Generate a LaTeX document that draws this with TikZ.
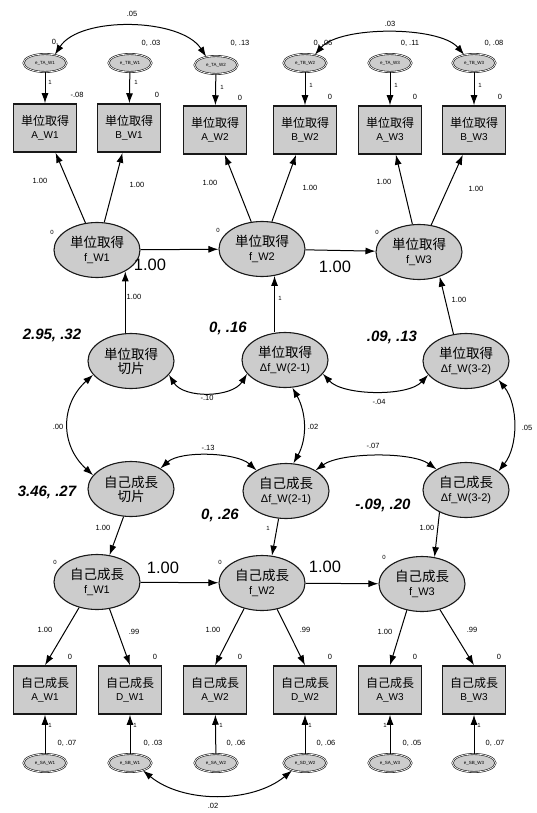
\documentclass[tikz,border=0pt]{standalone}
\usepackage{fontspec}
\setmainfont{Liberation Sans}
\newfontfamily\cjk{Noto Sans CJK JP}
\usetikzlibrary{shapes.geometric,arrows.meta,calc}
\newcommand{\jtxt}[2]{{\cjk\fontsize{#1}{#1}\selectfont #2}}
\begin{document}
\begin{tikzpicture}[x=1pt,y=-1pt,
  obs/.style={draw=black!90, line width=1.5pt, fill=black!20, minimum width=63pt, minimum height=48pt, inner sep=1pt, align=center, font=\fontsize{10}{13}\selectfont},
  lat/.style={ellipse, draw=black!90, line width=1.1pt, fill=black!20, minimum width=86pt, minimum height=55pt, inner sep=0pt, align=center, font=\fontsize{11}{14}\selectfont},
  err/.style={ellipse, draw=black!90, double, double distance=0.7pt, line width=0.6pt, fill=black!20, minimum width=43pt, minimum height=18pt, inner sep=0pt, font=\fontsize{4.5}{5}\selectfont},
  arr/.style={-{Latex[length=10pt,width=7pt]}, line width=1pt},
  cov/.style={{Latex[length=10pt,width=7pt]}-{Latex[length=10pt,width=7pt]}, line width=1pt},
  smlab/.style={font=\fontsize{7.5}{8}\selectfont, inner sep=0pt},
  tnlab/.style={font=\fontsize{6}{6}\selectfont, inner sep=0pt},
  biglab/.style={font=\fontsize{16.5}{18}\selectfont, inner sep=0pt},
  bilab/.style={font=\fontsize{15}{17}\bfseries\itshape\selectfont, inner sep=0pt}
]
\useasboundingbox (0,0) rectangle (537,813);

% ---- top error terms
\node[err] (eT1) at (45,63) {e\_TA\_W1};
\node[err] (eT2) at (130,63) {e\_TB\_W1};
\node[err] (eT3) at (216,65) {e\_TA\_W2};
\node[err] (eT4) at (305,63) {e\_TB\_W2};
\node[err] (eT5) at (390,63) {e\_TA\_W3};
\node[err] (eT6) at (474,63) {e\_TB\_W3};

% ---- top observed
\node[obs] (bT1) at (45,128) {\jtxt{12}{単位取得}\\A\_W1};
\node[obs] (bT2) at (129,128) {\jtxt{12}{単位取得}\\B\_W1};
\node[obs] (bT3) at (215,130) {\jtxt{12}{単位取得}\\A\_W2};
\node[obs] (bT4) at (305,130) {\jtxt{12}{単位取得}\\B\_W2};
\node[obs] (bT5) at (390,130) {\jtxt{12}{単位取得}\\A\_W3};
\node[obs] (bT6) at (474,130) {\jtxt{12}{単位取得}\\B\_W3};

% ---- top latent
\node[lat] (fT1) at (97,250) {\jtxt{13.5}{単位取得}\\f\_W1};
\node[lat] (fT2) at (262,249) {\jtxt{13.5}{単位取得}\\f\_W2};
\node[lat] (fT3) at (419,252) {\jtxt{13.5}{単位取得}\\f\_W3};

% ---- growth factors
\node[lat] (iT) at (131,361) {\jtxt{13.5}{単位取得}\\\jtxt{13.5}{切片}};
\node[lat] (dT21) at (285,360) {\jtxt{13.5}{単位取得}\\Δf\_W(2-1)};
\node[lat] (dT32) at (466,361) {\jtxt{13.5}{単位取得}\\Δf\_W(3-2)};
\node[lat] (iS) at (131,489) {\jtxt{13.5}{自己成長}\\\jtxt{13.5}{切片}};
\node[lat] (dS21) at (286,491) {\jtxt{13.5}{自己成長}\\Δf\_W(2-1)};
\node[lat] (dS32) at (466,490) {\jtxt{13.5}{自己成長}\\Δf\_W(3-2)};

% ---- bottom latent
\node[lat] (fS1) at (97,582) {\jtxt{13.5}{自己成長}\\f\_W1};
\node[lat] (fS2) at (262,583) {\jtxt{13.5}{自己成長}\\f\_W2};
\node[lat] (fS3) at (422,584) {\jtxt{13.5}{自己成長}\\f\_W3};

% ---- bottom observed
\node[obs] (bS1) at (45,690) {\jtxt{12}{自己成長}\\A\_W1};
\node[obs] (bS2) at (130,690) {\jtxt{12}{自己成長}\\D\_W1};
\node[obs] (bS3) at (215,690) {\jtxt{12}{自己成長}\\A\_W2};
\node[obs] (bS4) at (305,690) {\jtxt{12}{自己成長}\\D\_W2};
\node[obs] (bS5) at (390,690) {\jtxt{12}{自己成長}\\A\_W3};
\node[obs] (bS6) at (474,690) {\jtxt{12}{自己成長}\\B\_W3};

% ---- bottom error terms
\node[err] (eS1) at (45,763) {e\_SA\_W1};
\node[err] (eS2) at (130,763) {e\_SB\_W1};
\node[err] (eS3) at (216,763) {e\_SA\_W2};
\node[err] (eS4) at (305,763) {e\_SD\_W2};
\node[err] (eS5) at (390,763) {e\_SA\_W3};
\node[err] (eS6) at (474,763) {e\_SB\_W3};

% ---- error -> observed
\foreach \i in {1,...,6}{
  \draw[arr] (eT\i) -- (bT\i);
  \draw[arr] (eS\i) -- (bS\i);
}

% ---- loadings top
\draw[arr] (fT1) -- (bT1);
\draw[arr] (fT1) -- (bT2);
\draw[arr] (fT2) -- (bT3);
\draw[arr] (fT2) -- (bT4);
\draw[arr] (fT3) -- (bT5);
\draw[arr] (fT3) -- (bT6);

% ---- loadings bottom
\draw[arr] (fS1.-125) -- (bS1.north);
\draw[arr] (fS1.-65) -- (bS2.north);
\draw[arr] (fS2.-125) -- (bS3.north);
\draw[arr] (fS2.-60) -- (bS4.north);
\draw[arr] (fS3.-120) -- (bS5.north);
\draw[arr] (fS3.-55) -- (bS6.north);

% ---- autoregressive
\draw[arr] (fT1) -- (fT2);
\draw[arr] (fT2) -- (fT3);
\draw[arr] (fS1) -- (fS2);
\draw[arr] (fS2) -- (fS3);

% ---- growth factors -> latent
\draw[arr] (iT.north -| fT1.-37) -- (fT1.-37);
\draw[arr] (dT21.north -| fT2.-65) -- (fT2.-65);
\draw[arr] (dT32.115) -- (fT3.-50);
\draw[arr] (iS.-105) -- (fS1.65);
\draw[arr] (dS21.-105) -- (fS2.70);
\draw[arr] (dS32.-140) -- (fS3.65);

% ---- covariances
\draw[cov] (eT1.40) .. controls +(25,-39) and +(-25,-39) .. (eT3.140);
\draw[cov] (eT4.40) .. controls +(25,-29) and +(-25,-29) .. (eT6.140);
\draw[cov] (iT.-20) .. controls +(15,24) and +(-15,24) .. (dT21.-160);
\draw[cov] (dT21.-20) .. controls +(20,22) and +(-20,22) .. (dT32.-160);
\draw[cov] (iT.-160) .. controls +(-33,30) and +(-33,-30) .. (iS.160);
\draw[cov] (dT21.-75) .. controls +(14,25) and +(14,-25) .. (dS21.75);
\draw[cov] (dT32.-30) .. controls +(20,25) and +(20,-25) .. (dS32.30);
\draw[cov] (iS.35) .. controls +(20,-18) and +(-20,-18) .. (dS21.145);
\draw[cov] (dS21.35) .. controls +(25,-18) and +(-25,-18) .. (dS32.145);
\draw[cov] (eS2.-30) .. controls +(40,33) and +(-40,33) .. (eS4.-150);

% ---- labels: top variances
\node[smlab] (l1) at (55,42) {0,};
\node[smlab] (l2) at (151,43) {0, .03};
\node[smlab] (l3) at (240,43) {0, .13};
\node[smlab] (l4) at (323,43) {0, .06};
\node[smlab] (l5) at (410,43) {0, .11};
\node[smlab] (l6) at (494,43) {0, .08};
\node[smlab] (l7) at (132,14) {.05};
\node[smlab] (l8) at (390,24) {.03};
% intercepts top
\node[smlab] (l9) at (77,95) {-.08};
\node[smlab] (l10) at (157,95) {0};
\node[smlab] (l11) at (240,98) {0};
\node[smlab] (l12) at (330,97) {0};
\node[smlab] (l13) at (415,97) {0};
\node[smlab] (l14) at (500,97) {0};
% error weights top
\node[tnlab] (l15) at (50,82) {1};
\node[tnlab] (l16) at (136,82) {1};
\node[tnlab] (l17) at (222,87) {1};
\node[tnlab] (l18) at (311,85) {1};
\node[tnlab] (l19) at (396,85) {1};
\node[tnlab] (l20) at (480,85) {1};
% loadings top
\node[smlab] (l21) at (40,181) {1.00};
\node[smlab] (l22) at (137,185) {1.00};
\node[smlab] (l23) at (210,183) {1.00};
\node[smlab] (l24) at (310,188) {1.00};
\node[smlab] (l25) at (384,182) {1.00};
\node[smlab] (l26) at (476,189) {1.00};
% means
\node[tnlab] (l27) at (52,232) {0};
\node[tnlab] (l28) at (218,230) {0};
\node[tnlab] (l29) at (377,232) {0};
\node[tnlab] (l30) at (55,562) {0};
\node[tnlab] (l31) at (220,562) {0};
\node[tnlab] (l32) at (384,557) {0};
% autoregressive
\node[biglab] (l33) at (150,265) {1.00};
\node[biglab] (l34) at (335,267) {1.00};
\node[biglab] (l35) at (163,568) {1.00};
\node[biglab] (l36) at (325,567) {1.00};
% growth loadings
\node[smlab] (l37) at (134,297) {1.00};
\node[tnlab] (l38) at (280,298) {1};
\node[smlab] (l39) at (459,300) {1.00};
\node[smlab] (l40) at (103,528) {1.00};
\node[tnlab] (l41) at (268,528) {1};
\node[smlab] (l42) at (427,528) {1.00};
% means/variances of growth factors
\node[bilab] (l43) at (52,335) {2.95, .32};
\node[bilab] (l44) at (228,328) {0, .16};
\node[bilab] (l45) at (392,337) {.09, .13};
\node[bilab] (l46) at (47,492) {3.46, .27};
\node[bilab] (l47) at (220,515) {0, .26};
\node[bilab] (l48) at (383,505) {-.09, .20};
% growth covariances
\node[smlab] (l49) at (207,398) {-.10};
\node[smlab] (l50) at (379,402) {-.04};
\node[smlab] (l51) at (58,427) {.00};
\node[smlab] (l52) at (313,427) {.02};
\node[smlab] (l53) at (527,428) {.05};
\node[smlab] (l54) at (208,448) {-.13};
\node[smlab] (l55) at (373,446) {-.07};
% loadings bottom
\node[smlab] (l56) at (45,630) {1.00};
\node[smlab] (l57) at (134,632) {.99};
\node[smlab] (l58) at (213,630) {1.00};
\node[smlab] (l59) at (305,630) {.99};
\node[smlab] (l60) at (385,632) {1.00};
\node[smlab] (l61) at (472,630) {.99};
% intercepts bottom
\node[smlab] (l62) at (70,657) {0};
\node[smlab] (l63) at (155,657) {0};
\node[smlab] (l64) at (240,657) {0};
\node[smlab] (l65) at (330,657) {0};
\node[smlab] (l66) at (415,657) {0};
\node[smlab] (l67) at (499,657) {0};
% error weights bottom
\node[tnlab] (l68) at (50,725) {1};
\node[tnlab] (l69) at (135,725) {1};
\node[tnlab] (l70) at (221,725) {1};
\node[tnlab] (l71) at (310,725) {1};
\node[tnlab] (l72) at (385,725) {1};
\node[tnlab] (l73) at (479,725) {1};
% variances bottom
\node[smlab] (l74) at (67,743) {0, .07};
\node[smlab] (l75) at (153,743) {0, .03};
\node[smlab] (l76) at (236,743) {0, .06};
\node[smlab] (l77) at (326,743) {0, .06};
\node[smlab] (l78) at (412,743) {0, .05};
\node[smlab] (l79) at (495,743) {0, .07};
\node[smlab] (l80) at (213,806) {.02};
\end{tikzpicture}
\end{document}
